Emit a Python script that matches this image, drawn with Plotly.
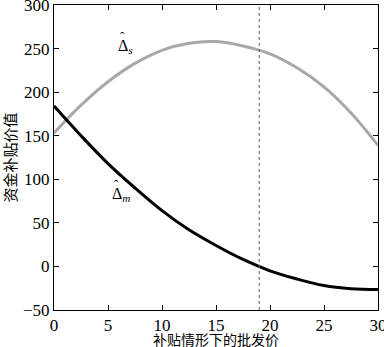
import plotly.graph_objects as go

x_vals = [0, 2.5, 5, 7.5, 10, 12.5, 15, 17.5, 20, 22.5, 25, 27.5, 30]
delta_s = [153, 185, 212, 233, 248, 256, 258, 253, 244, 228, 206, 176, 139]
delta_m = [184, 150, 118, 90, 64, 42, 24, 8, -5, -14.5, -22, -25.5, -26.5]
x_dash = 19
x_ticks = [0, 5, 10, 15, 20, 25, 30]
y_ticks = [-50, 0, 50, 100, 150, 200, 250, 300]

serif = "Times New Roman"
cjk = "Noto Sans CJK SC"

fig = go.Figure()
fig.add_trace(go.Scatter(x=x_vals, y=delta_s, mode="lines", line=dict(color="#a8a8a8", width=3, shape="spline"), showlegend=False))
fig.add_trace(go.Scatter(x=x_vals, y=delta_m, mode="lines", line=dict(color="#000000", width=3, shape="spline"), showlegend=False))
fig.add_shape(type="line", x0=x_dash, x1=x_dash, y0=-50, y1=300, xref="x", yref="y",
              line=dict(color="#555555", width=1, dash="dot"))

for lx, ly, sub in [(5.93, 255, "s"), (5.37, 85, "m")]:
    fig.add_annotation(x=lx, y=ly, text="Δ<sub><i>" + sub + "</i></sub>", showarrow=False,
                       xanchor="left", yanchor="middle", xshift=-2, yshift=-2,
                       font=dict(family=serif, size=16, color="black"))
    fig.add_annotation(x=lx, y=ly, text="ˆ", showarrow=False, xanchor="center", yanchor="middle",
                       xshift=4, yshift=8,
                       font=dict(family=serif, size=13, color="black"))

axis_common = dict(showline=True, linecolor="black", linewidth=1, mirror="ticks",
                   ticks="inside", ticklen=5, tickcolor="black", showgrid=False, zeroline=False,
                   ticklabeloverflow="allow", automargin=False,
                   tickfont=dict(family=serif, size=17, color="black"))
fig.update_xaxes(range=[0, 30], tickvals=x_ticks, **axis_common)
fig.update_yaxes(range=[-50, 300], tickvals=y_ticks, **axis_common)

fig.add_annotation(xref="paper", yref="paper", x=0.5, y=0, yshift=-29, yanchor="middle",
                   text="补贴情形下的批发价", showarrow=False,
                   font=dict(family=cjk, size=14, color="black"))
fig.add_annotation(xref="paper", yref="paper", x=0, y=0.5, xshift=-45, xanchor="center",
                   text="资金补贴价值", showarrow=False, textangle=-90,
                   font=dict(family=cjk, size=15, color="black"))

fig.update_layout(width=384, height=347, margin=dict(l=54, r=6, t=5, b=37, autoexpand=False),
                  plot_bgcolor="white", paper_bgcolor="white")
fig.write_html("out.html")
